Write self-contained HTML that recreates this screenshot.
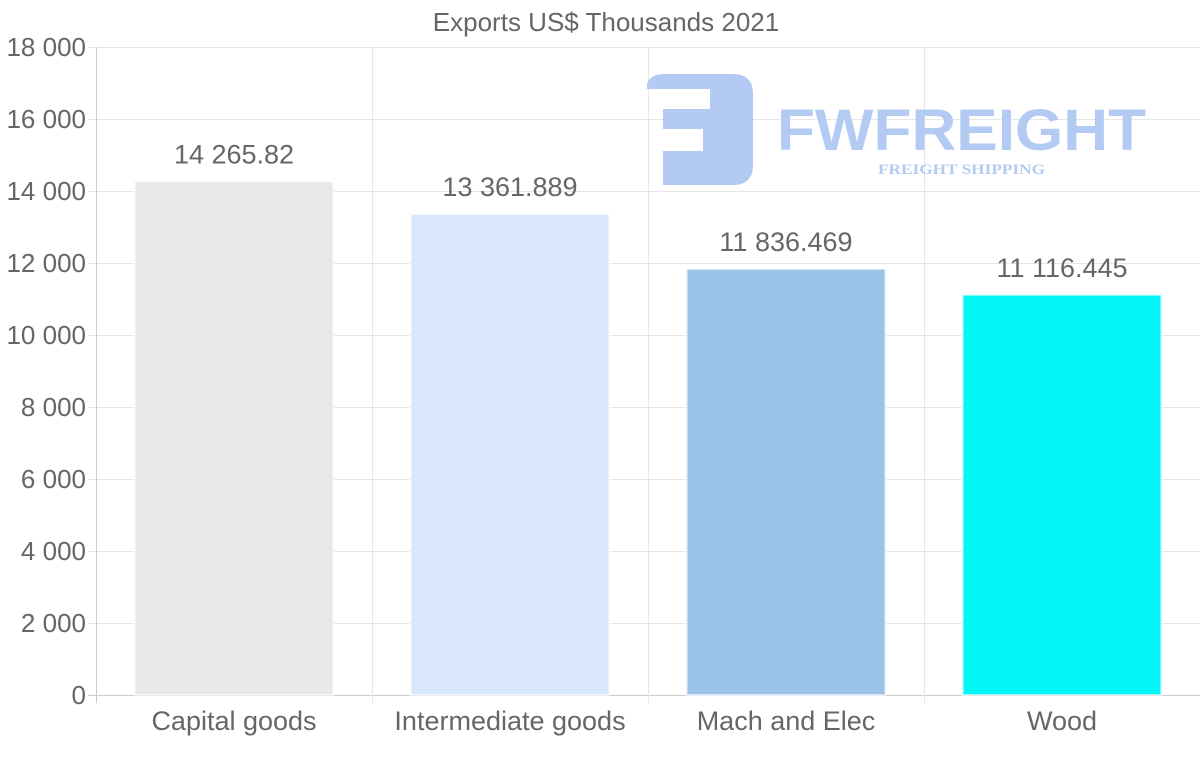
<!DOCTYPE html>
<html><head><meta charset="utf-8"><style>
body{margin:0;background:#fff;}
svg{display:block;font-family:"Liberation Sans",sans-serif;}
</style></head><body>
<svg id="chart" width="1200" height="763">
<text x="606" y="31" text-anchor="middle" font-size="26" fill="#666">Exports US$ Thousands 2021</text>
<g id="grid"></g>
<g id="logo">
<path d="M647,89 L647,84 Q650,74 665,74 L733,74 Q753,74 753,94 L753,165 Q753,185 733,185 L663,185 L663,151 L703,151 L703,129 L663,129 L663,109 L710,109 L710,89 Z" fill="#b3cbf3"/>
<text x="777" y="150" font-size="58" font-weight="bold" fill="#b3cbf3" textLength="369" lengthAdjust="spacingAndGlyphs">FWFREIGHT</text>
<text x="878" y="174" font-size="15" font-weight="bold" font-family="Liberation Serif,serif" fill="#b3cbf3" textLength="167" lengthAdjust="spacingAndGlyphs">FREIGHT SHIPPING</text>
</g>
<g id="bars"></g>
<g id="axes"></g>
</svg>
<script>
const categories=["Capital goods","Intermediate goods","Mach and Elec","Wood"];
const values=[14265.82,13361.889,11836.469,11116.445];
const labels=["14 265.82","13 361.889","11 836.469","11 116.445"];
const colors=["#e8e8e8","#d8e7f9","#9bc3e7","#03f7f7"];
const yTicks=[0,2000,4000,6000,8000,10000,12000,14000,16000,18000];
const yTickLabels=["0","2 000","4 000","6 000","8 000","10 000","12 000","14 000","16 000","18 000"];
const L=96,R=1200,T=47,B=695,yMax=18000;
const NS="http://www.w3.org/2000/svg";
const y=v=>B-(v/yMax)*(B-T);
const colW=(R-L)/categories.length;
const x=i=>L+colW*i;
function mk(tag,attrs,parent,text){const e=document.createElementNS(NS,tag);for(const k in attrs)e.setAttribute(k,attrs[k]);if(text!==undefined)e.textContent=text;document.getElementById(parent).appendChild(e);return e;}
yTicks.forEach((t,i)=>{
 const g=mk('line',{x1:L-8,x2:R,y1:y(t)+0.5,y2:y(t)+0.5,stroke:i===0?'#ccc':'#e6e6e6'},'grid');
 
 
 const tx=mk('text',{x:L-10,y:y(t)+9,'text-anchor':'end','font-size':26,fill:'#666'},'axes',yTickLabels[i]);
 
 
});
for(let i=0;i<=categories.length;i++){
 const g=mk('line',{x1:x(i)+0.5,x2:x(i)+0.5,y1:T,y2:B+8,stroke:i===0?'#ccc':'#e6e6e6'},'grid');
 
 
}
categories.forEach((c,i)=>{
 const bw=colW*0.72, cx=x(i)+colW/2;
 const r=mk('rect',{x:cx-bw/2,y:y(values[i]),width:bw,height:B-y(values[i]),fill:colors[i],stroke:'rgba(255,255,255,0.6)','stroke-width':2},'bars');
 
 
 const v=mk('text',{x:cx,y:y(values[i])-18,'text-anchor':'middle','font-size':27,fill:'#666'},'bars',labels[i]);
 
 
 const t=mk('text',{x:cx,y:730,'text-anchor':'middle','font-size':27,fill:'#666'},'axes',c);
 
 
});
</script>
</body></html>
